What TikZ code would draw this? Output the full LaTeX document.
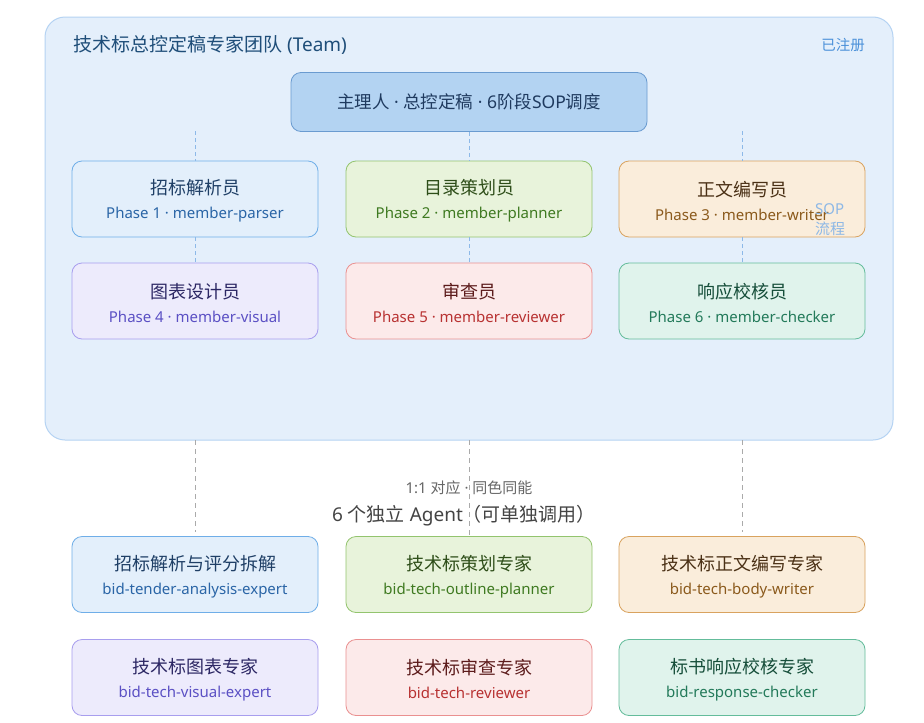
\documentclass[tikz,border=0pt]{standalone}
\usepackage{fontspec}
\setmainfont{Noto Sans CJK SC}
\newfontfamily\lat{Noto Sans}
\definecolor{contfill}{HTML}{E4EFFB}
\definecolor{contdraw}{HTML}{B5D3F3}
\definecolor{hdrfill}{HTML}{B3D3F2}
\definecolor{hdrdraw}{HTML}{6A9BD0}
\definecolor{hdrtext}{HTML}{1F3A5F}
\definecolor{teamtitle}{HTML}{1F4E79}
\definecolor{regblue}{HTML}{4A90D9}
\definecolor{sopblue}{HTML}{8DB8E6}
\definecolor{linkblue}{HTML}{8DB9E8}
\definecolor{linkgray}{HTML}{AAAAAA}
\definecolor{notegray}{HTML}{666666}
\definecolor{headgray}{HTML}{444444}
% box palettes
\definecolor{bFill}{HTML}{E3EFFB}\definecolor{bDraw}{HTML}{6FAEE8}\definecolor{bT}{HTML}{1F3F66}\definecolor{bS}{HTML}{2A65A6}
\definecolor{gFill}{HTML}{E8F3DB}\definecolor{gDraw}{HTML}{93C46E}\definecolor{gT}{HTML}{2E4E19}\definecolor{gS}{HTML}{3F7A21}
\definecolor{oFill}{HTML}{FAEDDB}\definecolor{oDraw}{HTML}{D9A35F}\definecolor{oT}{HTML}{4A3015}\definecolor{oS}{HTML}{8B5A1C}
\definecolor{pFill}{HTML}{EDEBFC}\definecolor{pDraw}{HTML}{A89EEE}\definecolor{pT}{HTML}{2C2764}\definecolor{pS}{HTML}{5B50C4}
\definecolor{rFill}{HTML}{FCEAEA}\definecolor{rDraw}{HTML}{EA9090}\definecolor{rT}{HTML}{5C1B1B}\definecolor{rS}{HTML}{B83232}
\definecolor{tFill}{HTML}{E0F3EC}\definecolor{tDraw}{HTML}{64BC9B}\definecolor{tT}{HTML}{164E3A}\definecolor{tS}{HTML}{237A5A}
\newcommand{\boxtxt}[4]{{\fontsize{18}{24}\selectfont\color{#1}\rule{0pt}{19pt}#3}\\{\lat\color{#2}#4}}
\newcommand{\md}{{\lat\ ·\ }}
\tikzset{
  cardbox/.style={draw, rounded corners=10pt, minimum width=246pt, minimum height=76pt,
    line width=0.8pt, align=center, inner sep=0pt, font=\fontsize{15}{24}\selectfont},
  bluebox/.style={cardbox, fill=bFill, draw=bDraw},
  greenbox/.style={cardbox, fill=gFill, draw=gDraw},
  orangebox/.style={cardbox, fill=oFill, draw=oDraw},
  purplebox/.style={cardbox, fill=pFill, draw=pDraw},
  redbox/.style={cardbox, fill=rFill, draw=rDraw},
  tealbox/.style={cardbox, fill=tFill, draw=tDraw},
  bluelink/.style={draw=linkblue, line width=0.9pt, dash pattern=on 4pt off 3pt},
  graylink/.style={draw=linkgray, line width=0.9pt, dash pattern=on 5pt off 4pt},
}
\begin{document}
\begin{tikzpicture}[x=1pt,y=-1pt]
\useasboundingbox (0,0) rectangle (924,723);
\fill[white] (0,0) rectangle (924,723);

% container
\node[draw=contdraw, fill=contfill, rounded corners=20pt, line width=1pt,
      minimum width=848pt, minimum height=423pt, inner sep=0pt] (team) at (469,228.5) {};
\node[anchor=west, text=teamtitle, font=\fontsize{19}{22}\selectfont, inner sep=0pt] (teamtitle) at (73,45) {技术标总控定稿专家团队{\lat\ (Team)}};
\node[text=regblue, font=\fontsize{14.5}{16}\selectfont, inner sep=0pt] (reg) at (843,45) {已注册};

% coordinates for dashed stubs
\coordinate (s1) at (195,131);
\coordinate (s3) at (742,131);
\coordinate (g1) at (195,440);
\coordinate (g2) at (469,440);
\coordinate (g3) at (742,440);

% header
\node[draw=hdrdraw, fill=hdrfill, rounded corners=10pt, line width=0.8pt,
      minimum width=356pt, minimum height=59pt, inner sep=0pt,
      text=hdrtext, font=\fontsize{17.5}{20}\selectfont] (hdr) at (469,102) {主理人\md 总控定稿\md{\lat 6}阶段{\lat SOP}调度};

% member boxes
\node[bluebox]   (m1) at (195,199) {\boxtxt{bT}{bS}{招标解析员}{Phase 1 · member-parser}};
\node[greenbox]  (m2) at (469,199) {\boxtxt{gT}{gS}{目录策划员}{Phase 2 · member-planner}};
\node[orangebox] (m3) at (742,199) {\boxtxt{oT}{oS}{正文编写员}{Phase 3 · member-writer}};
\node[purplebox] (m4) at (195,301) {\boxtxt{pT}{pS}{图表设计员}{Phase 4 · member-visual}};
\node[redbox]    (m5) at (469,301) {\boxtxt{rT}{rS}{审查员}{Phase 5 · member-reviewer}};
\node[tealbox]   (m6) at (742,301) {\boxtxt{tT}{tS}{响应校核员}{Phase 6 · member-checker}};

% blue dashed links
\path[bluelink] (s1) -- (m1.north);
\path[bluelink] (hdr.south) -- (m2.north);
\path[bluelink] (s3) -- (m3.north);
\path[bluelink] (m1.south) -- (m4.north);
\path[bluelink] (m2.south) -- (m5.north);
\path[bluelink] (m3.south) -- (m6.north);

% SOP label
\node[anchor=north west, align=left, text=sopblue, font=\fontsize{15}{20}\selectfont, inner sep=0pt] (sop) at (815,203) {{\lat SOP}\\流程};

% agent boxes
\node[bluebox]   (a1) at (195,574.5) {\boxtxt{bT}{bS}{招标解析与评分拆解}{bid-tender-analysis-expert}};
\node[greenbox]  (a2) at (469,574.5) {\boxtxt{gT}{gS}{技术标策划专家}{bid-tech-outline-planner}};
\node[orangebox] (a3) at (742,574.5) {\boxtxt{oT}{oS}{技术标正文编写专家}{bid-tech-body-writer}};
\node[purplebox] (a4) at (195,677.5) {\boxtxt{pT}{pS}{技术标图表专家}{bid-tech-visual-expert}};
\node[redbox]    (a5) at (469,677.5) {\boxtxt{rT}{rS}{技术标审查专家}{bid-tech-reviewer}};
\node[tealbox]   (a6) at (742,677.5) {\boxtxt{tT}{tS}{标书响应校核专家}{bid-response-checker}};

% gray dashed links
\path[graylink] (g1) -- ([yshift=4pt]a1.north);
\path[graylink] (g2) -- (a2.north);
\path[graylink] (g3) -- ([yshift=4pt]a3.north);

% middle labels
\node[text=notegray, font=\fontsize{15}{16}\selectfont, inner sep=0pt] (note) at (469,488) {{\lat 1:1 }对应\md 同色同能};
\node[text=headgray, font=\fontsize{19}{22}\selectfont, inner sep=0pt] (agents) at (464,516) {{\lat 6 }个独立{\lat\ Agent}（可单独调用）};
\end{tikzpicture}
\end{document}
